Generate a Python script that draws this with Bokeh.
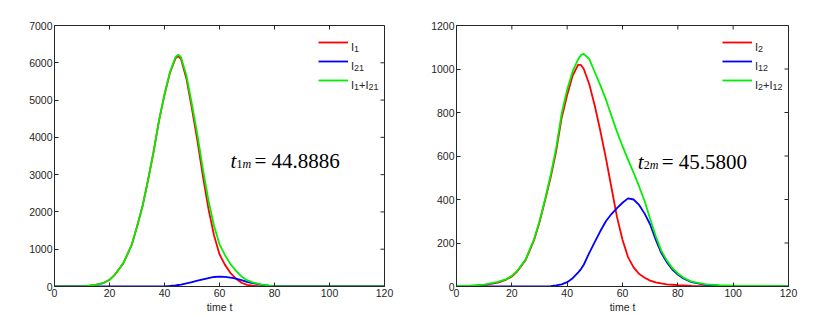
import math
from bokeh.plotting import figure
from bokeh.layouts import row
from bokeh.models import Range1d, FixedTicker, Label, Legend, LegendItem
from bokeh.embed import file_html
from bokeh.resources import INLINE

# ---------------- data ----------------
t_left = [0, 5, 10, 12, 15, 18, 20, 22, 25, 28, 30, 32, 34, 36, 38, 40, 42, 44, 45, 46,
          48, 50, 52, 54, 56, 58, 60, 62, 64, 66, 68, 70, 72, 75, 78, 80, 85, 90, 100, 110, 120]
I1 = [0, 2, 8, 15, 45, 100, 180, 320, 620, 1100, 1600, 2150, 2850, 3600, 4450, 5147, 5735, 6120, 6180, 6100,
      5565, 4760, 3895, 2940, 2075, 1375, 865, 580, 360, 210, 100, 45, 20, 6, 2, 0, 0, 0, 0, 0, 0]
I21 = [0, 0, 0, 0, 0, 0, 0, 0, 0, 0, 0, 0, 0, 0, 0, 3, 15, 30, 40, 50,
       85, 120, 155, 190, 225, 255, 265, 260, 240, 210, 170, 125, 90, 50, 23, 12, 4, 1, 0, 0, 0]
I1_I21 = [0, 2, 8, 15, 45, 100, 180, 320, 620, 1100, 1600, 2150, 2850, 3600, 4450, 5150, 5750, 6150, 6220, 6150,
          5650, 4880, 4050, 3130, 2300, 1630, 1130, 840, 600, 420, 270, 170, 110, 55, 25, 12, 4, 1, 0, 0, 0]

t_right = [0, 5, 10, 15, 18, 20, 22, 25, 28, 30, 32, 34, 36, 38, 40, 42, 44, 45, 46, 48, 50, 52,
           54, 56, 58, 60, 62, 64, 66, 68, 70, 72, 74, 76, 78, 80, 82, 85, 90, 95, 100, 110, 120]
I2 = [2, 3, 6, 18, 32, 46, 70, 122, 212, 295, 395, 500, 620, 775, 880, 970, 1020, 1018, 1000, 930, 830, 715,
      590, 455, 320, 215, 135, 88, 58, 40, 27, 19, 14, 10, 8, 6, 5, 3, 2, 1, 1, 0, 0]
I12 = [0, 0, 0, 0, 0, 0, 0, 0, 0, 0, 1, 2, 5, 10, 20, 38, 65, 80, 100, 155, 205, 255,
       300, 333, 360, 385, 405, 400, 375, 335, 285, 215, 155, 112, 78, 55, 37, 20, 8, 4, 2, 0, 0]
I2_I12 = [3, 4, 9, 21, 34, 49, 72, 125, 216, 300, 400, 510, 635, 795, 905, 990, 1045, 1065, 1070, 1045, 985, 925,
          860, 785, 712, 645, 583, 524, 460, 392, 310, 232, 165, 120, 85, 60, 41, 22, 10, 6, 4, 3, 2]

x_ticks = [0, 20, 40, 60, 80, 100, 120]
y_ticks_left = [0, 1000, 2000, 3000, 4000, 5000, 6000, 7000]
y_ticks_right = [0, 200, 400, 600, 800, 1000, 1200]

# legend labels: (text, is_subscript) pieces
labels_left = [[("I", 0), ("1", 1)], [("I", 0), ("21", 1)], [("I", 0), ("1", 1), ("+I", 0), ("21", 1)]]
labels_right = [[("I", 0), ("2", 1)], [("I", 0), ("12", 1)], [("I", 0), ("2", 1), ("+I", 0), ("12", 1)]]
note_left = ("1", "44.8886")
note_right = ("2", "45.5800")

COLORS = ["#ff0000", "#0000ff", "#00f000"]
AX = "#262626"
SANS = "Liberation Sans"
SERIF = "Liberation Serif"
FRAME_H = 261
ADV = {"I": 0.278, "+": 0.584, "1": 0.556, "2": 0.556}


def rich_label(p, parts, x, y, size, sub_size, drop):
    for txt, is_sub in parts:
        fs = sub_size if is_sub else size
        p.add_layout(Label(x=x, y=y - (drop if is_sub else 0), x_units="screen", y_units="screen",
                           text=txt, text_font=SANS, text_font_size=f"{fs}px",
                           text_baseline="alphabetic", text_color=AX))
        x += sum(ADV[c] for c in txt) * fs


def panel(t, series, labels, yticks, ymax, width, b_left, b_right, leg_x, note, note_x, note_y):
    p = figure(width=width, height=316, x_range=Range1d(0, 120), y_range=Range1d(0, ymax),
               output_backend="svg", toolbar_location=None,
               min_border_left=b_left, min_border_right=b_right,
               min_border_top=25, min_border_bottom=316 - 25 - FRAME_H)
    p.grid.visible = False
    p.outline_line_color = AX
    p.background_fill_color = "white"
    p.border_fill_color = "white"
    for ax, ticks in ((p.xaxis[0], x_ticks), (p.yaxis[0], yticks)):
        ax.ticker = FixedTicker(ticks=ticks)
        ax.major_tick_in = 4
        ax.major_tick_out = 0
        ax.minor_tick_in = 0
        ax.minor_tick_out = 0
        ax.axis_line_color = AX
        ax.major_tick_line_color = AX
        ax.major_label_text_color = AX
        ax.major_label_text_font = SANS
        ax.major_label_text_font_size = "10.5px"
        ax.major_label_standoff = 2
    p.xaxis.axis_label = "time t"
    p.xaxis.axis_label_text_font = SANS
    p.xaxis.axis_label_text_font_size = "10.5px"
    p.xaxis.axis_label_text_font_style = "normal"
    p.xaxis.axis_label_text_color = AX
    p.xaxis.axis_label_standoff = 1

    # inward tick marks on the top and right edges of the box
    p.ray(x=x_ticks, y=[ymax] * len(x_ticks), length=4, length_units="screen",
          angle=-math.pi / 2, line_color=AX, line_width=1)
    p.ray(x=[120] * len(yticks), y=yticks, length=4, length_units="screen",
          angle=math.pi, line_color=AX, line_width=1)

    items = []
    for ys, col in zip(series, COLORS):
        r = p.line(t, ys, line_color=col, line_width=1.8)
        items.append(LegendItem(label=" ", renderers=[r]))
    leg = Legend(items=items, location=(leg_x, FRAME_H - 67), background_fill_alpha=0, border_line_alpha=0,
                 glyph_width=30, glyph_height=16, label_height=16, spacing=3, padding=4, margin=0,
                 label_standoff=3, label_text_font=SANS, label_text_font_size="10.5px",
                 label_text_color=AX)
    p.add_layout(leg)
    # legend texts with real subscripts
    for parts, base in zip(labels, (239.3, 221.0, 201.7)):
        rich_label(p, parts, leg_x + 36.5, base, 11, 9, 2)

    sub, val = note
    common = dict(x=note_x, y=note_y, text_font=SERIF, text_color="black", text_baseline="alphabetic")
    p.add_layout(Label(text="t", text_font_size="21px", text_font_style="italic", **common))
    p.add_layout(Label(text=sub, text_font_size="12px", x_offset=6, y_offset=-3, **common))
    p.add_layout(Label(text="m", text_font_size="12px", text_font_style="italic", x_offset=12, y_offset=-3, **common))
    p.add_layout(Label(text="= " + val, text_font_size="21px", x_offset=24, **common))
    return p


p1 = panel(t_left, [I1, I21, I1_I21], labels_left, y_ticks_left, 7000, 404, 54, 20, 260,
           note_left, 64.0, 3373)
p2 = panel(t_right, [I2, I12, I2_I12], labels_right, y_ticks_right, 1200, 420, 52, 36, 262,
           note_right, 65.5, 574)

layout = row(p1, p2)
open("out.html", "w").write(file_html(layout, INLINE))
